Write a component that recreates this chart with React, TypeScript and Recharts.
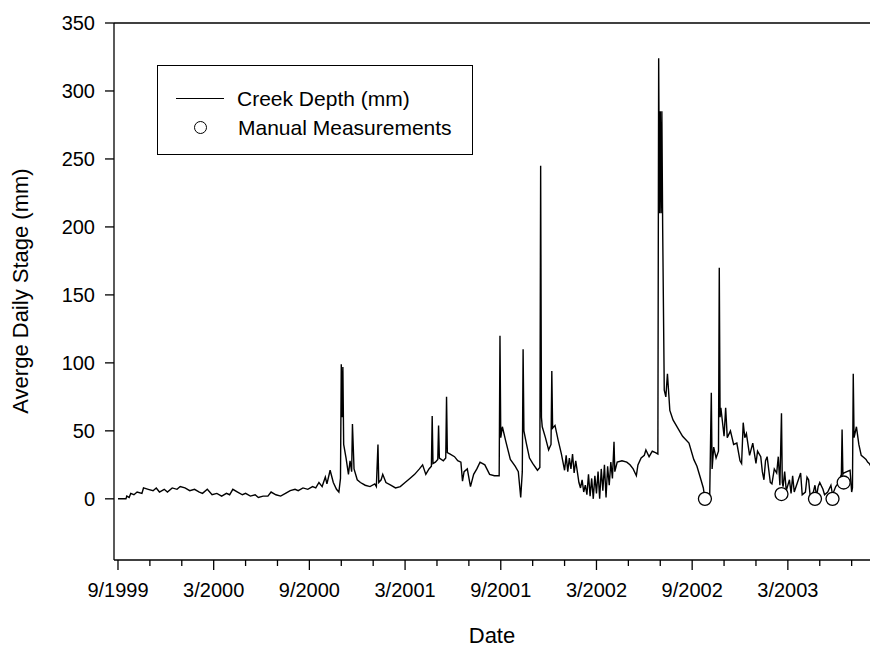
import React from "react";
import {
  ComposedChart,
  Line,
  Scatter,
  XAxis,
  YAxis,
  ReferenceLine,
} from "recharts";

// x = months since 9/1999, y = depth (mm)
const creekDepth: [number, number][] = [
  [0, 0], [0.5, 0], [0.55, 2], [0.7, 1], [0.8, 4], [1.0, 3], [1.2, 5], [1.5, 4], [1.6, 8], [1.9, 7],
  [2.2, 6], [2.4, 8], [2.6, 5], [2.9, 7], [3.1, 5], [3.4, 8], [3.7, 7], [3.9, 9], [4.2, 8], [4.5, 6],
  [4.8, 7], [5.1, 5], [5.3, 4], [5.6, 7], [5.9, 3], [6.2, 4], [6.5, 2], [6.8, 4], [7.0, 3], [7.2, 7],
  [7.5, 5], [7.8, 3], [8.0, 4], [8.3, 2], [8.6, 3], [8.8, 1], [9.1, 2], [9.4, 2], [9.6, 5], [9.9, 3],
  [10.2, 2], [10.5, 4], [10.8, 6], [11.1, 7], [11.3, 6], [11.6, 8], [11.9, 7], [12.2, 9], [12.4, 8], [12.6, 12],
  [12.8, 9], [13.0, 16], [13.1, 11], [13.3, 21], [13.5, 12], [13.7, 7], [13.85, 5], [13.95, 15], [14.0, 99], [14.05, 60],
  [14.1, 97], [14.15, 40], [14.3, 30], [14.45, 18], [14.55, 28], [14.65, 20], [14.7, 55], [14.8, 22], [15.0, 14], [15.2, 12],
  [15.5, 10], [15.8, 9], [16.1, 11], [16.2, 9], [16.3, 40], [16.35, 12], [16.5, 14], [16.6, 18], [16.8, 12], [17.1, 10],
  [17.4, 8], [17.7, 9], [18.0, 12], [18.3, 15], [18.6, 18], [18.9, 22], [19.1, 25], [19.3, 18], [19.5, 22], [19.65, 24],
  [19.7, 61], [19.75, 26], [19.9, 27], [20.05, 29], [20.1, 54], [20.15, 30], [20.4, 28], [20.55, 30], [20.6, 75], [20.65, 34],
  [20.8, 33], [21.1, 31], [21.3, 28], [21.5, 27], [21.6, 13], [21.7, 20], [21.9, 22], [22.1, 9], [22.3, 18], [22.5, 22],
  [22.7, 27], [23.0, 25], [23.3, 18], [23.6, 17], [23.9, 17], [23.95, 120], [24.0, 45], [24.1, 53], [24.3, 43], [24.6, 29],
  [24.9, 24], [25.1, 20], [25.25, 1], [25.35, 20], [25.4, 110], [25.45, 50], [25.6, 41], [25.8, 30], [26.0, 26], [26.3, 21],
  [26.45, 23], [26.5, 245], [26.55, 60], [26.6, 53], [26.8, 45], [27.0, 36], [27.15, 40], [27.2, 94], [27.25, 52], [27.4, 54],
  [27.6, 43], [27.8, 33], [28.0, 21], [28.1, 32], [28.2, 20], [28.3, 30], [28.4, 22], [28.5, 33], [28.6, 19], [28.7, 28],
  [28.9, 12], [29.0, 8], [29.1, 14], [29.2, 5], [29.3, 10], [29.4, 3], [29.5, 18], [29.6, 2], [29.7, 15], [29.8, 0],
  [29.9, 17], [30.0, 4], [30.1, 20], [30.2, 0], [30.3, 22], [30.4, 6], [30.5, 25], [30.6, 1], [30.7, 24], [30.8, 10],
  [30.9, 27], [31.0, 15], [31.1, 42], [31.15, 20], [31.3, 27], [31.6, 28], [31.9, 27], [32.1, 25], [32.3, 22], [32.5, 17],
  [32.6, 25], [32.8, 30], [33.0, 32], [33.1, 36], [33.3, 31], [33.5, 35], [33.7, 34], [33.85, 33], [33.9, 324], [33.95, 210],
  [34.0, 285], [34.05, 210], [34.1, 285], [34.15, 200], [34.25, 80], [34.35, 75], [34.45, 92], [34.6, 65], [34.8, 58], [35.1, 52],
  [35.4, 46], [35.8, 41], [36.1, 29], [36.3, 24], [36.5, 16], [36.7, 8], [36.8, 0], [37.1, 2], [37.2, 78], [37.25, 22],
  [37.35, 38], [37.5, 30], [37.65, 35], [37.7, 170], [37.75, 60], [37.8, 67], [38.0, 46], [38.1, 67], [38.2, 45], [38.4, 50],
  [38.6, 40], [38.8, 41], [39.0, 28], [39.1, 26], [39.2, 56], [39.3, 45], [39.4, 48], [39.6, 32], [39.8, 41], [40.0, 26],
  [40.1, 35], [40.3, 31], [40.4, 20], [40.5, 14], [40.6, 28], [40.7, 31], [40.9, 12], [41.0, 11], [41.15, 22], [41.3, 19],
  [41.4, 31], [41.5, 10], [41.6, 63], [41.65, 12], [41.7, 9], [41.8, 20], [41.9, 6], [42.1, 14], [42.2, 4], [42.3, 17],
  [42.4, 5], [42.6, 12], [42.8, 19], [42.9, 3], [43.1, 5], [43.2, 16], [43.3, 14], [43.4, 2], [43.6, 5], [43.7, 10],
  [43.8, 2], [43.9, 9], [44.0, 12], [44.2, 7], [44.3, 3], [44.5, 5], [44.7, 10], [44.8, 3], [45.0, 9], [45.2, 12],
  [45.3, 16], [45.35, 14], [45.4, 51], [45.45, 18], [45.5, 19], [45.7, 20], [45.9, 21], [46.0, 5], [46.05, 8], [46.1, 92],
  [46.15, 45], [46.3, 53], [46.45, 40], [46.6, 32], [46.8, 30], [46.9, 29], [47.0, 27], [47.1, 26], [47.2, 24],
];

const manual: [number, number][] = [
  [36.8, 0], [41.6, 3.5], [43.7, 0], [44.8, 0], [45.5, 12],
];

const monthTicks = [0, 2, 4, 6, 8, 10, 12, 14, 16, 18, 20, 22, 24, 26, 28, 30, 32, 34, 36, 38, 40, 42, 44, 46];
const depthTicks = [0, 50, 100, 150, 200, 250, 300, 350];

const lineData = creekDepth.map(([m, d]) => ({ m, d }));
const pointData = manual.map(([m, d]) => ({ m, d }));

const FONT = "'Liberation Sans', Arial, sans-serif";

function monthLabel(m: number) {
  const idx = 8 + m;
  return `${(idx % 12) + 1}/${1999 + Math.floor(idx / 12)}`;
}

function DateTick(props: any) {
  const { x, y, payload } = props;
  const major = payload.value % 6 === 0;
  return (
    <g>
      <line x1={x} x2={x} y1={y} y2={y + (major ? 10 : 6)} stroke="#000" strokeWidth={1.3} />
      {major && (
        <text x={x} y={y + 37} textAnchor="middle" fontSize={20} fontFamily={FONT} fill="#000">
          {monthLabel(payload.value)}
        </text>
      )}
    </g>
  );
}

function LegendBox() {
  return (
    <div
      style={{
        position: "absolute",
        left: 157,
        top: 65,
        width: 316,
        height: 90,
        border: "1.3px solid #000",
        boxSizing: "border-box",
        fontFamily: FONT,
        fontSize: 21,
        color: "#000",
        background: "#fff",
        paddingTop: 18,
        whiteSpace: "nowrap",
      }}
    >
      <div style={{ display: "flex", alignItems: "center", height: 29 }}>
        <span style={{ width: 48, borderTop: "1.3px solid #000", marginLeft: 18, marginRight: 13 }} />
        Creek Depth (mm)
      </div>
      <div style={{ display: "flex", alignItems: "center", height: 29 }}>
        <span
          style={{
            width: 11,
            height: 11,
            border: "1.3px solid #000",
            borderRadius: "50%",
            marginLeft: 36,
            marginRight: 31,
          }}
        />
        Manual Measurements
      </div>
    </div>
  );
}

export default function App() {
  return (
    <div style={{ position: "fixed", left: 0, top: 0, width: 870, height: 651, background: "#fff", overflow: "hidden" }}>
      <ComposedChart width={870} height={651} margin={{ top: 23, right: 0, left: 0, bottom: 0 }}>
        <XAxis
          type="number"
          dataKey="m"
          domain={[-0.25, 47.15]}
          ticks={monthTicks}
          allowDataOverflow
          height={91}
          tickSize={0}
          tickMargin={0}
          tickLine={false}
          tick={<DateTick />}
          axisLine={{ stroke: "#000", strokeWidth: 1.3 }}
        />
        <YAxis
          type="number"
          domain={[-45, 350]}
          ticks={depthTicks}
          allowDataOverflow
          width={114}
          tickSize={9}
          tickMargin={10}
          tick={{ fontSize: 20, fontFamily: FONT, fill: "#000" }}
          tickLine={{ stroke: "#000", strokeWidth: 1.3 }}
          axisLine={{ stroke: "#000", strokeWidth: 1.3 }}
          label={{
            content: () => (
              <text
                transform="translate(28,291) rotate(-90)"
                textAnchor="middle"
                fontSize={22}
                fontFamily={FONT}
                fill="#000"
              >
                Averge Daily Stage (mm)
              </text>
            ),
          }}
        />
        <ReferenceLine y={350} stroke="#000" strokeWidth={1.3} />
        <Line
          data={lineData}
          dataKey="d"
          type="linear"
          stroke="#000"
          strokeWidth={1.4}
          dot={false}
          isAnimationActive={false}
        />
        <Scatter
          data={pointData}
          dataKey="d"
          fill="#fff"
          stroke="#000"
          strokeWidth={1.3}
          shape={(p: any) => <circle cx={p.cx} cy={p.cy} r={6.5} fill="#fff" stroke="#000" strokeWidth={1.3} />}
          isAnimationActive={false}
        />
      </ComposedChart>
      <LegendBox />
      <div
        style={{
          position: "absolute",
          left: 0,
          width: 984,
          top: 624,
          textAlign: "center",
          fontFamily: FONT,
          fontSize: 22,
          lineHeight: "24px",
        }}
      >
        Date
      </div>
    </div>
  );
}
